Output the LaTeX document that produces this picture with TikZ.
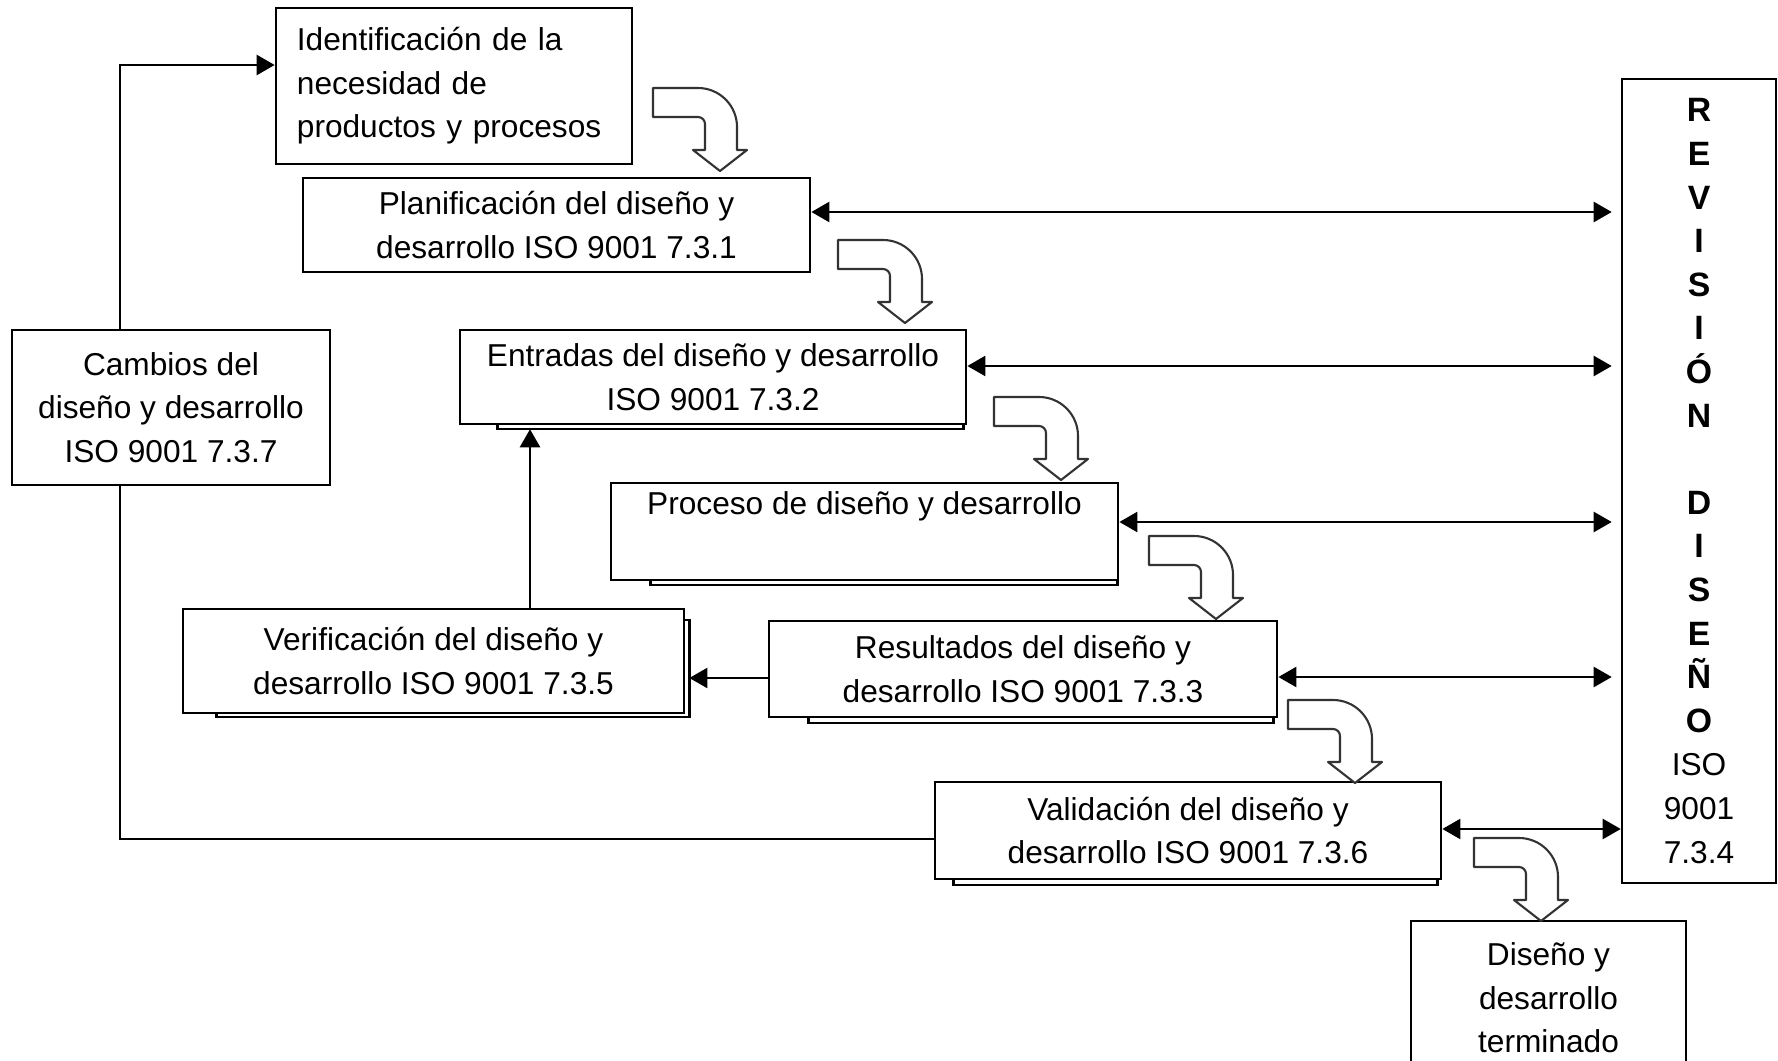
\documentclass[tikz,border=0pt]{standalone}
\usepackage{fontspec}
\setmainfont{Liberation Sans}
\usetikzlibrary{arrows.meta,calc}

\tikzset{
  bentarrow/.pic={
    \draw[line width=0.6pt, draw=black!80, fill=white, line join=round]
      (0,0) -- (45,0) arc[start angle=-90, end angle=0, radius=39] -- (84,62)
      -- (94,62) -- (67,83) -- (40,62) -- (52,62) -- (52,36)
      arc[start angle=0, end angle=-90, radius=7] -- (0,29) -- cycle;
  }
}

\begin{document}
\begin{tikzpicture}[x=0.01cm, y=-0.01cm, font=\fontsize{9}{12.4}\selectfont,
  box/.style={draw, rectangle, fill=white, line width=0.7pt, align=center, inner sep=0pt},
  arr/.style={-{Triangle[length=1.8mm, width=2mm]}, line width=0.7pt},
  dbl/.style={{Triangle[length=1.8mm, width=2mm]}-{Triangle[length=1.8mm, width=2mm]}, line width=0.7pt},
  shade/.style={line width=0.7pt}]

\useasboundingbox (0,0) rectangle (1778,1061);

\node[box, text width=3.14cm, align=left, minimum width=3.56cm, minimum height=1.56cm] (ident) at (454,86) {Identificación de la\\necesidad de\\productos y procesos};
\node[box, minimum width=5.07cm, minimum height=0.94cm] (planif) at (556.5,225) {Planificación del diseño y\\desarrollo ISO 9001 7.3.1};
\node[box, minimum width=5.06cm, minimum height=0.94cm] (entradas) at (713,377) {Entradas del diseño y desarrollo\\ISO 9001 7.3.2};
\node[box, minimum width=5.07cm, minimum height=0.97cm] (proceso) at (864.5,531.5) {Proceso de diseño y desarrollo\\ \strut};
\node[box, minimum width=5.01cm, minimum height=1.04cm] (verif) at (433.5,661) {Verificación del diseño y\\desarrollo ISO 9001 7.3.5};
\node[box, minimum width=5.08cm, minimum height=0.96cm] (result) at (1023,669) {Resultados del diseño y\\desarrollo ISO 9001 7.3.3};
\node[box, minimum width=5.06cm, minimum height=0.97cm] (valid) at (1188,830.5) {Validación del diseño y\\desarrollo ISO 9001 7.3.6};
\node[box, minimum width=2.75cm, minimum height=1.54cm] (fin) at (1548.5,998) {Diseño y\\desarrollo\\terminado};
\node[box, minimum width=3.18cm, minimum height=1.55cm] (cambios) at (171,407.5) {Cambios del\\diseño y desarrollo\\ISO 9001 7.3.7};
\node[box, text width=1.54cm, minimum height=8.04cm] (revision) at (1699,481)
  {{\bfseries\fontsize{9.6}{12.4}\selectfont R\\E\\V\\I\\S\\I\\Ó\\N\\[12.4pt]D\\I\\S\\E\\Ñ\\O}\\ISO\\9001\\7.3.4};

% sombras
\draw[shade] ([xshift=0.39cm]entradas.south west) -- ++(0,4) -| ([xshift=-0.04cm]entradas.south east);
\draw[shade] ([xshift=0.41cm]proceso.south west) -- ++(0,4) -| ([xshift=-0.02cm]proceso.south east);
\draw[shade] ([xshift=0.41cm]result.south west) -- ++(0,5) -| ([xshift=-0.05cm]result.south east);
\draw[shade] ([xshift=0.20cm]valid.south west) -- ++(0,5) -| ([xshift=-0.05cm]valid.south east);
\draw[shade] ([xshift=0.35cm]verif.south west) -- ++(0,3) -| ([shift={(4,12)}]verif.north east) -- ++(-4,0);

% flechas curvas
\foreach \p in {(653,88),(838,240),(994,397),(1149,536),(1288,700),(1474,838)}
  \pic at \p {bentarrow};

% revision
\draw[dbl, shorten >=0.09cm] ($(planif.east)+(0,-13)$) -- ($(planif.east -| revision.west)+(0,-13)$);
\draw[dbl, shorten >=0.09cm] ($(entradas.east)+(0,-11)$) -- ($(entradas.east -| revision.west)+(0,-11)$);
\draw[dbl, shorten >=0.09cm] ($(proceso.east)+(0,-9.5)$) -- ($(proceso.east -| revision.west)+(0,-9.5)$);
\draw[dbl, shorten >=0.09cm] ($(result.east)+(0,8)$) -- ($(result.east -| revision.west)+(0,8)$);
\draw[dbl] ($(valid.east)+(0,-1.5)$) -- ($(valid.east -| revision.west)+(0,-1.5)$);

% verificacion y cambios
\draw[arr] ($(result.west)+(0,9)$) -- ($(result.west -| verif.east)+(4,9)$);
\draw[arr, shorten >=0.04cm] ($(verif.north)+(96.5,0)$) -- ($(verif.north |- entradas.south)+(96.5,0)$);
\draw[arr] ($(cambios.north)+(-51,0)$) |- ($(ident.west)+(0,-21)$);
\draw[line width=0.7pt] ($(valid.west)+(0,8.5)$) -| ($(cambios.south)+(-51,0)$);
\end{tikzpicture}
\end{document}
